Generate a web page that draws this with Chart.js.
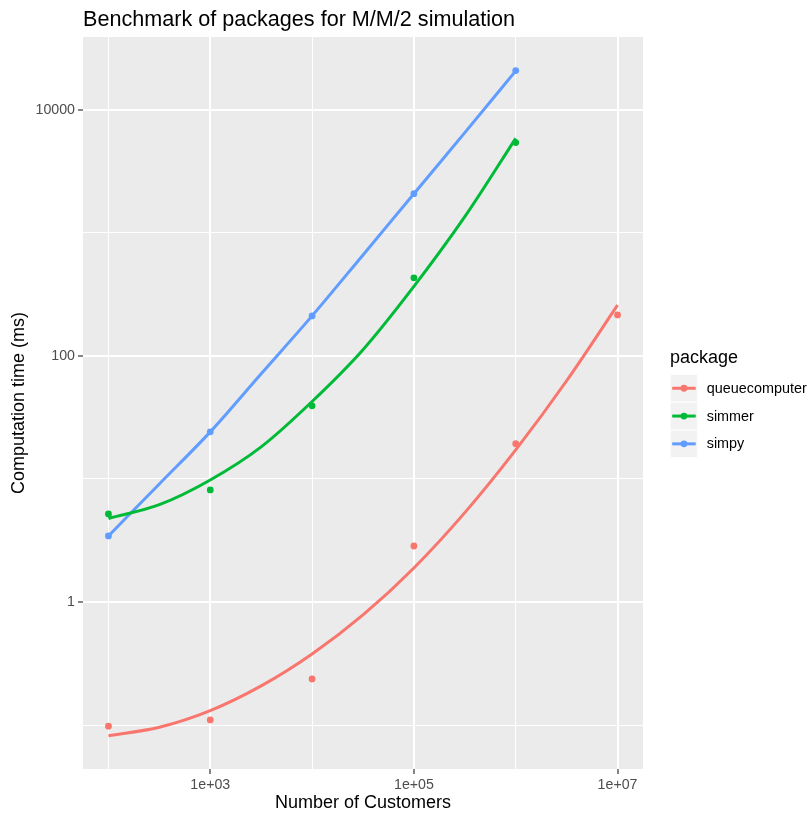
<!DOCTYPE html>
<html>
<head>
<meta charset="utf-8">
<script src="https://cdn.jsdelivr.net/npm/chart.js@4.4.0/dist/chart.umd.min.js"></script>
<style>
  html, body { margin: 0; padding: 0; background: #fff; }
</style>
</head>
<body>
<canvas id="grafico" width="811" height="814"></canvas>
<script>
// Number of customers (x) per run
const customers = [1e2, 1e3, 1e4, 1e5, 1e6, 1e7];

// measured computation times (ms)
const queuecomputerPts = [0.098, 0.11, 0.237, 2.85, 19.3, 215];
const simmerPts = [5.19, 8.14, 39.2, 430, 5395];
const simpyPts = [3.44, 24.1, 211, 2075, 20750];

// smoothed fit, every half decade
const fitCustomers = [100, 316, 1000, 3162, 10000, 31623, 100000, 316228, 1000000, 3162278, 10000000];
const queuecomputerFit = [0.082, 0.096, 0.131, 0.208, 0.378, 0.785, 1.89, 5.32, 17.2, 62.7, 258];
const simmerFit = [4.77, 6.17, 9.8, 18.2, 42.5, 112, 366, 1349, 5843];
const simpyFit = [3.44, 9.1, 24.1, 71.5, 211, 660, 2075, 6500, 20650];

const packages = ["queuecomputer", "simmer", "simpy"];
const cores = ["#F8766D", "#00BA38", "#619CFF"];

const xTicks = [1e2, 1e3, 1e4, 1e5, 1e6, 1e7];
const xMajor = [1e3, 1e5, 1e7];
const xLabels = ["1e+03", "1e+05", "1e+07"];
const yTicks = [0.1, 1, 10, 100, 1000, 10000];
const yMajor = [1, 100, 10000];
const yLabels = ["1", "100", "10000"];

const fonte = "'Liberation Sans', Arial, Helvetica, sans-serif";
Chart.defaults.font.family = fonte;

function pares(xs, valores) {
  return valores.map((v, i) => ({ x: xs[i], y: v }));
}

function ehMaior(lista, v) {
  return lista.some(m => Math.abs(Math.log10(m) - Math.log10(v)) < 1e-6);
}

// fundo cinzento do painel + titulo + legenda
const painel = {
  id: "painel",
  beforeDraw(chart) {
    const { ctx, chartArea: a } = chart;
    ctx.save();
    ctx.fillStyle = "#EBEBEB";
    ctx.fillRect(a.left, a.top, a.right - a.left, a.bottom - a.top);
    ctx.restore();
  },
  afterDraw(chart) {
    const ctx = chart.ctx;
    ctx.save();
    ctx.fillStyle = "#000";
    ctx.font = "21.6px " + fonte;
    ctx.textBaseline = "alphabetic";
    ctx.textAlign = "left";
    ctx.fillText("Benchmark of packages for M/M/2 simulation", 83, 25.5);

    // legenda estilo ggplot
    ctx.font = "18px " + fonte;
    ctx.fillText("package", 670, 363);
    const lado = 26.5, passo = 27.8, x0 = 670.7, y0 = 375;
    packages.forEach((nome, i) => {
      const y = y0 + i * passo;
      ctx.fillStyle = "#F2F2F2";
      ctx.fillRect(x0, y, lado, lado);
      const cy = y + lado / 2;
      ctx.strokeStyle = cores[i];
      ctx.lineWidth = 3;
      ctx.beginPath();
      ctx.moveTo(x0 + 1.5, cy);
      ctx.lineTo(x0 + lado - 1.5, cy);
      ctx.stroke();
      ctx.fillStyle = cores[i];
      ctx.beginPath();
      ctx.arc(x0 + lado / 2, cy, 3.4, 0, Math.PI * 2);
      ctx.fill();
      ctx.fillStyle = "#000";
      ctx.font = "14.4px " + fonte;
      ctx.textBaseline = "middle";
      ctx.fillText(nome, 706.7, cy + 0.5);
    });
    ctx.restore();
  }
};

const datasets = [];
[queuecomputerFit, simmerFit, simpyFit].forEach((fit, i) => {
  datasets.push({
    label: packages[i],
    data: pares(fitCustomers, fit),
    showLine: true,
    borderColor: cores[i],
    borderWidth: 3,
    pointRadius: 0,
    cubicInterpolationMode: "monotone",
    fill: false
  });
});
[queuecomputerPts, simmerPts, simpyPts].forEach((pts, i) => {
  datasets.push({
    label: packages[i] + " pts",
    data: pares(customers, pts),
    showLine: false,
    pointRadius: 3.4,
    pointBorderWidth: 0,
    backgroundColor: cores[i],
    borderColor: cores[i]
  });
});

const ctx = document.getElementById("grafico").getContext("2d");
new Chart(ctx, {
  type: "scatter",
  data: { datasets },
  options: {
    responsive: false,
    animation: false,
    layout: { padding: { top: 37, right: 168, left: 0, bottom: 0 } },
    plugins: {
      legend: { display: false },
      tooltip: { enabled: false }
    },
    scales: {
      x: {
        type: "logarithmic",
        min: Math.pow(10, 1.75),
        max: Math.pow(10, 7.25),
        afterBuildTicks: s => { s.ticks = xTicks.map(v => ({ value: v })); },
        afterFit: s => { s.height = 45; },
        border: { display: false },
        grid: {
          color: "#FFFFFF",
          lineWidth: c => (c.tick && ehMaior(xMajor, c.tick.value) ? 2 : 1),
          tickColor: c => (c.tick && ehMaior(xMajor, c.tick.value) ? "#333333" : "rgba(0,0,0,0)"),
          tickLength: 5,
          tickWidth: 1.2
        },
        ticks: {
          autoSkip: false,
          maxRotation: 0,
          padding: 3,
          color: "#4D4D4D",
          font: { size: 14.2 },
          callback: v => {
            const k = xMajor.findIndex(m => ehMaior([m], v));
            return k >= 0 ? xLabels[k] : "";
          }
        },
        title: {
          display: true,
          text: "Number of Customers",
          color: "#000",
          font: { size: 18 },
          padding: { top: 0, bottom: 0 }
        }
      },
      y: {
        type: "logarithmic",
        min: Math.pow(10, -1.357),
        max: Math.pow(10, 4.59),
        afterBuildTicks: s => { s.ticks = yTicks.map(v => ({ value: v })); },
        afterFit: s => { s.width = 83; },
        border: { display: false },
        grid: {
          color: "#FFFFFF",
          lineWidth: c => (c.tick && ehMaior(yMajor, c.tick.value) ? 2 : 1),
          tickColor: c => (c.tick && ehMaior(yMajor, c.tick.value) ? "#333333" : "rgba(0,0,0,0)"),
          tickLength: 5,
          tickWidth: 1.2
        },
        ticks: {
          autoSkip: false,
          padding: 3,
          color: "#4D4D4D",
          font: { size: 14.2 },
          callback: v => {
            const k = yMajor.findIndex(m => ehMaior([m], v));
            return k >= 0 ? yLabels[k] : "";
          }
        },
        title: {
          display: true,
          text: "Computation time (ms)",
          color: "#000",
          font: { size: 18 },
          padding: { top: 8.7, bottom: 0 }
        }
      }
    }
  },
  plugins: [painel]
});
</script>
</body>
</html>
